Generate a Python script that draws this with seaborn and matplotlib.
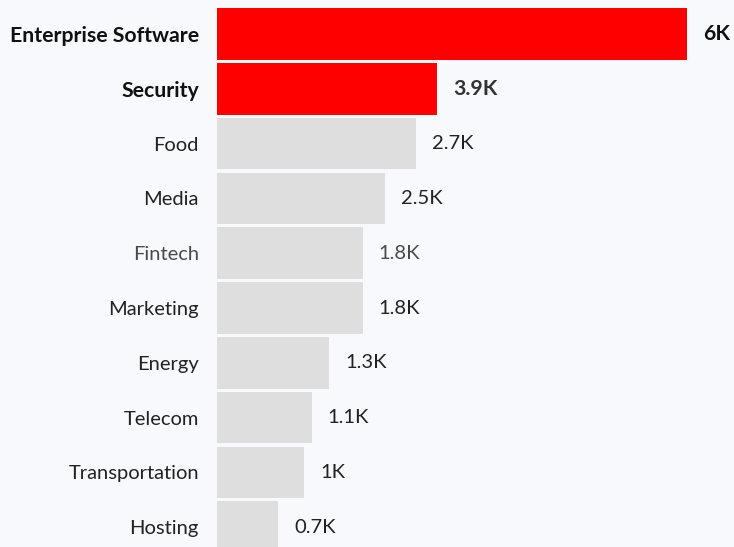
import matplotlib
matplotlib.use("Agg")
import matplotlib.pyplot as plt
import seaborn as sns

# Data
categories = ["Enterprise Software", "Security", "Food", "Media", "Fintech",
              "Marketing", "Energy", "Telecom", "Transportation", "Hosting"]
# bar lengths as drawn (thousands)
bar_lengths = [6.0, 2.81, 2.54, 2.15, 1.86, 1.86, 1.43, 1.21, 1.11, 0.78]
# value labels as printed next to the bars
value_labels = ["6K", "3.9K", "2.7K", "2.5K", "1.8K", "1.8K", "1.3K", "1.1K", "1K", "0.7K"]
highlighted = ["Enterprise Software", "Security"]

BG = "#f8f9fd"
RED = "#ff0000"
GREY = "#dedede"

sns.set_theme(style="white")
plt.rcParams["font.family"] = ["Lato", "DejaVu Sans"]

fig = plt.figure(figsize=(7.34, 5.47), dpi=100, facecolor=BG)
ax = fig.add_axes([217 / 734, 0, 1 - 217 / 734, 1])
ax.set_facecolor(BG)

palette = {c: (RED if c in highlighted else GREY) for c in categories}
sns.barplot(x=bar_lengths, y=categories, hue=categories, palette=palette,
            orient="h", width=0.94, legend=False, saturation=1,
            linewidth=0, edgecolor="none", ax=ax)

# px -> data scaling: 6K bar is 470 px long, first bar centred 34 px from top
px_per_unit = 470 / 6.0
ax.set_xlim(0, (734 - 217) / px_per_unit)
pitch = 54.8
ax.set_ylim((547 - 34) / pitch, -34 / pitch)

for spine in ax.spines.values():
    spine.set_visible(False)
ax.set_xticks([])
ax.set_xlabel("")
ax.set_ylabel("")
ax.tick_params(axis="y", length=0, pad=13)

for lbl in ax.get_yticklabels():
    name = lbl.get_text()
    if name in highlighted:
        lbl.set_fontsize(15.3)
        lbl.set_fontweight("bold")
        lbl.set_color("#111111")
    else:
        lbl.set_fontsize(14.5)
        lbl.set_color("#4a4a4a" if name == "Fintech" else "#222222")

pad = 16 / px_per_unit
for i, (name, length, text) in enumerate(zip(categories, bar_lengths, value_labels)):
    bold = name in highlighted
    color = "#111111" if i == 0 else ("#333333" if bold else
                                     ("#4a4a4a" if name == "Fintech" else "#222222"))
    ax.text(length + pad, i, text, va="center", ha="left",
            fontsize=15.3 if bold else 14.5,
            fontweight="bold" if bold else "normal", color=color)

fig.savefig("out.png", dpi=100, facecolor=BG)
